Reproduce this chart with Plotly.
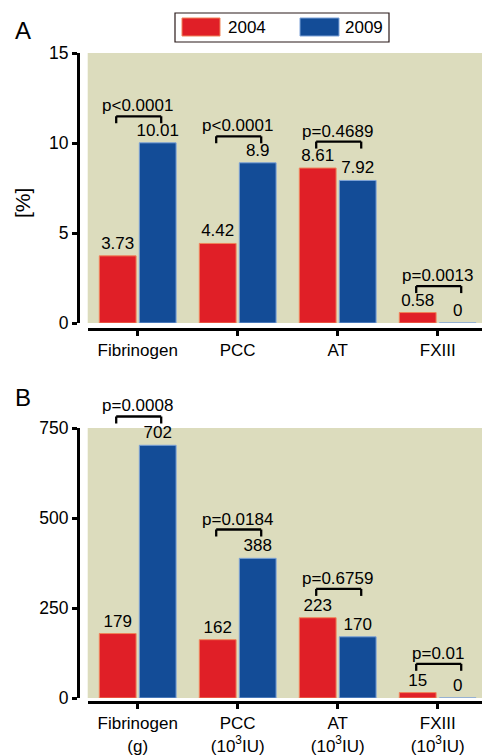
import plotly.graph_objects as go

# ---------------- data ----------------
categories_a = ["Fibrinogen", "PCC", "AT", "FXIII"]
categories_b = ["Fibrinogen<br>(g)", "PCC<br>(10<sup>3</sup>IU)", "AT<br>(10<sup>3</sup>IU)", "FXIII<br>(10<sup>3</sup>IU)"]
years = ["2004", "2009"]
pct_2004 = [3.73, 4.42, 8.61, 0.58]
pct_2009 = [10.01, 8.9, 7.92, 0]
amt_2004 = [179, 162, 223, 15]
amt_2009 = [702, 388, 170, 0]
pvals_a = ["p<0.0001", "p<0.0001", "p=0.4689", "p=0.0013"]
pvals_b = ["p=0.0008", "p=0.0184", "p=0.6759", "p=0.01"]
ticks_a = [0, 5, 10, 15]
ticks_b = [0, 250, 500, 750]

# ---------------- style ----------------
W, H = 482, 755
FONT = "Liberation Sans, Arial, sans-serif"
RED, BLUE = "#e01f27", "#134c97"
RED_EDGE, BLUE_EDGE = "#f0845a", "#7ea3d8"
BG = "#dcdcbd"

def py(px):  # pixel row -> paper fraction
    return (H - px) / H

def pxx(px):
    return px / W

x_dom = [pxx(87.7), 1.0]
x_range = [-0.5, 3.443]
ya_dom = [py(323), py(53)]
yb_dom = [py(698), py(428)]

fig = go.Figure()

def add_bars(v04, v09, cats, xa, ya):
    for vals, col, edge, name in [(v04, RED, RED_EDGE, years[0]), (v09, BLUE, BLUE_EDGE, years[1])]:
        fig.add_trace(go.Bar(
            x=cats, y=vals, name=name, xaxis=xa, yaxis=ya,
            marker=dict(color=col, line=dict(color=edge, width=1)),
            text=[f"{v:g}" for v in vals], textposition="outside", constraintext="none",
            textfont=dict(family=FONT, size=17, color="black"),
            cliponaxis=False, showlegend=False,
        ))

add_bars(pct_2004, pct_2009, categories_a, "x", "y")
add_bars(amt_2004, amt_2009, categories_b, "x2", "y2")

shapes = []
annotations = []

def add_brackets(v04, v09, pvals, xa, ya, ymax, off):
    for i, (a, b, p) in enumerate(zip(v04, v09, pvals)):
        frac = (max(a, b) + off) / ymax
        yref = ya + " domain"
        shapes.append(dict(type="line", xref=xa, yref=yref, x0=i - 0.215, x1=i + 0.235,
                           y0=frac, y1=frac, line=dict(color="black", width=2.3)))
        for xe in (i - 0.215, i + 0.235):
            shapes.append(dict(type="line", xref=xa, yref=yref, x0=xe, x1=xe,
                               ysizemode="pixel", yanchor=frac, y0=-7, y1=0,
                               line=dict(color="black", width=2.3)))
        annotations.append(dict(text=p, xref=xa, yref=yref, x=i, y=frac,
                                xanchor="center", yanchor="bottom", yshift=-1, showarrow=False,
                                font=dict(family=FONT, size=17, color="black")))

add_brackets(pct_2004, pct_2009, pvals_a, "x", "y", 15, 1.47)
add_brackets(amt_2004, amt_2009, pvals_b, "x2", "y2", 750, 80)

# legend (manual, larger swatches)
shapes.append(dict(type="rect", xref="paper", yref="paper", x0=pxx(175), x1=pxx(389),
                   y0=py(42), y1=py(13), line=dict(color="#2a1a1a", width=1.2), fillcolor="white"))
for x0, x1, col, edge, lab, tx in [(182, 220, RED, RED_EDGE, years[0], 226), (300, 339, BLUE, BLUE_EDGE, years[1], 343)]:
    shapes.append(dict(type="rect", xref="paper", yref="paper", x0=pxx(x0), x1=pxx(x1),
                       y0=py(36), y1=py(18), line=dict(color=edge, width=1), fillcolor=col))
    annotations.append(dict(text=lab, xref="paper", yref="paper", x=pxx(tx), y=py(27.5),
                            xanchor="left", yanchor="middle", showarrow=False,
                            font=dict(family=FONT, size=17, color="black")))

# panel letters and y title
annotations.append(dict(text="A", xref="paper", yref="paper", x=pxx(23), y=py(30.5), showarrow=False,
                        xanchor="center", yanchor="middle", font=dict(family=FONT, size=24, color="black")))
annotations.append(dict(text="B", xref="paper", yref="paper", x=pxx(23), y=py(398), showarrow=False,
                        xanchor="center", yanchor="middle", font=dict(family=FONT, size=24, color="black")))
annotations.append(dict(text="[%]", xref="paper", yref="paper", x=pxx(23), y=py(203), showarrow=False,
                        textangle=-90, xanchor="center", yanchor="middle",
                        font=dict(family=FONT, size=21, color="black")))

axis_common = dict(showgrid=False, zeroline=False, showline=True, linecolor="black", linewidth=3,
                   ticks="outside", tickcolor="black", tickwidth=3, ticklen=5, automargin=False)
xfont = dict(family=FONT, size=17, color="black")
yfont = dict(family=FONT, size=17.5, color="black")

fig.update_layout(
    template="none",
    width=W, height=H, margin=dict(l=0, r=0, t=0, b=0, pad=0), autosize=False,
    paper_bgcolor="white", plot_bgcolor=BG,
    barmode="group", bargap=0.2, bargroupgap=0.08,
    font=dict(family=FONT, size=17, color="black"),
    xaxis=dict(domain=x_dom, anchor="free", position=py(329), range=x_range, tickfont=xfont, **axis_common),
    yaxis=dict(domain=ya_dom, anchor="free", position=pxx(78), range=[0, 15], tickvals=ticks_a,
               tickfont=yfont, **axis_common),
    xaxis2=dict(domain=x_dom, anchor="free", position=py(702), range=x_range, tickfont=xfont, **axis_common),
    yaxis2=dict(domain=yb_dom, anchor="free", position=pxx(78), range=[0, 750], tickvals=ticks_b,
                tickfont=yfont, **axis_common),
    shapes=shapes, annotations=annotations,
)

fig.write_html("out.html", config={"displayModeBar": False},
               post_script="document.body.style.margin='0px';document.body.style.overflow='hidden';")
